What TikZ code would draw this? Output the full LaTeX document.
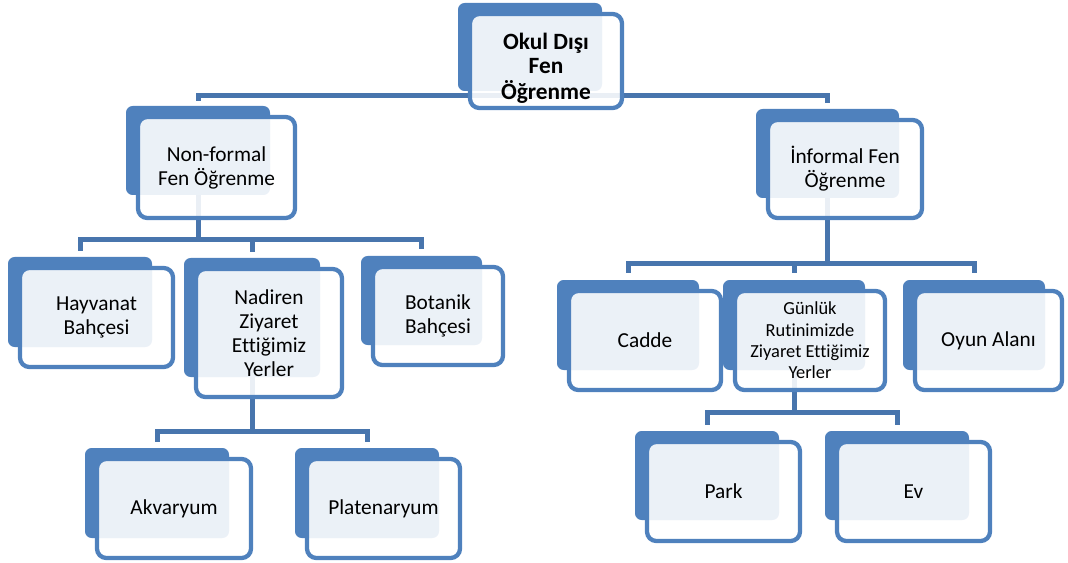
\documentclass[tikz,border=0pt]{standalone}
\usepackage{fontspec}
\setmainfont{Carlito}[Ligatures=NoCommon]
\usetikzlibrary{calc}
\definecolor{boxblue}{RGB}{79,129,189}
\definecolor{lineblue}{RGB}{72,117,173}
\pgfdeclarelayer{bg}
\pgfdeclarelayer{cn}
\pgfsetlayers{bg,cn,main}
\tikzset{
  backbox/.style={fill=boxblue, draw=none, rounded corners=5pt, inner sep=0pt},
  frontbox/.style={draw=boxblue, line width=3.2pt, fill=white, fill opacity=0.89, text opacity=1,
    rounded corners=7pt, inner sep=0pt, align=center, text=black,
    font=\fontsize{16}{18}\selectfont},
  smalltext/.style={font=\fontsize{13.8}{16}\selectfont},
  roottext/.style={font=\fontsize{17.5}{18.3}\selectfont\bfseries},
  conn/.style={draw=lineblue, line width=3.75pt}
}
\newcommand\mybox[9]{%
  \pgfmathsetmacro\myBW{(#4-#2)*0.75}%
  \pgfmathsetmacro\myBH{(#5-#3)*0.75}%
  \pgfmathsetmacro\myFW{(#6-#2-12)*0.75}%
  \pgfmathsetmacro\myFH{(#7-#3-11)*0.75}%
  \begin{pgfonlayer}{bg}
    \node[backbox, minimum width=\myBW pt, minimum height=\myBH pt] (#1B) at ({(#2+#4)/2},{(#3+#5)/2}) {};
  \end{pgfonlayer}
  \node[frontbox, minimum width=\myFW pt, minimum height=\myFH pt, #9] (#1) at ({(#2+12+#6)/2},{(#3+11+#7)/2}) {#8};%
}
\begin{document}
\begin{tikzpicture}[x=0.75pt, y=-0.75pt]
\useasboundingbox (0,0) rectangle (1068,563);
\mybox{root}{458}{3}{602}{91}{622}{108}{\raisebox{-10.8pt}[0pt][0pt]{\begin{tabular}{@{}c@{}}Okul Dışı\\Fen\\Öğrenme\end{tabular}}}{roottext}
\mybox{nf}{126}{106}{270}{195}{295}{218}{Non-formal\\Fen Öğrenme}{}
\mybox{inf}{756}{109}{899}{198}{922}{218}{İnformal Fen\\Öğrenme}{}
\mybox{hay}{8}{257}{152}{347}{173}{367}{Hayvanat\\Bahçesi}{}
\mybox{nad}{184}{258}{320}{377}{342}{397}{Nadiren\\Ziyaret\\Ettiğimiz\\Yerler}{}
\mybox{bot}{361}{256}{482}{345}{503}{365}{Botanik\\Bahçesi}{}
\mybox{cad}{557}{280}{699}{370}{721}{390}{Cadde}{}
\mybox{gun}{723}{280}{865}{370}{885}{390}{Günlük\\Rutinimizde\\Ziyaret Ettiğimiz\\Yerler}{smalltext}
\mybox{oyun}{903}{280}{1045}{370}{1062}{390}{Oyun Alanı}{}
\mybox{akv}{85}{448}{229}{538}{251}{558}{Akvaryum}{}
\mybox{plat}{295}{448}{439}{538}{460}{558}{Platenaryum}{}
\mybox{park}{635}{431}{779}{520}{800}{541}{Park}{}
\mybox{ev}{825}{431}{969}{520}{990}{541}{Ev}{}
\begin{pgfonlayer}{cn}
  % root
  \draw[conn] ($(nfB.north)+(0,-5)$) |- ($(rootB.south)+(0,4)$) -| ($(infB.north)+(0,-6)$);
  % non-formal
  \draw[conn] (nfB.south) -- ($(nfB.south |- hayB.north)+(0,-17)$) coordinate (b1);
  \draw[conn] ($(hayB.north)+(0,-6)$) |- (b1) -| ($(botB.north)+(0,-7)$);
  \draw[conn] (b1 -| nadB.north) -- ($(nadB.north)+(0,-6)$);
  % informal
  \draw[conn] (infB.south) -- ($(infB.south |- cadB.north)+(0,-16)$) coordinate (b2);
  \draw[conn] ($(cadB.north)+(0,-7)$) |- (b2) -| ($(oyunB.north)+(0,-7)$);
  \draw[conn] (b2 -| gunB.north) -- ($(gunB.north)+(0,-7)$);
  % nadiren
  \draw[conn] (nadB.south) -- ($(nadB.south |- akvB.north)+(0,-16)$) coordinate (b3);
  \draw[conn] ($(akvB.north)+(0,-6)$) |- (b3) -| ($(platB.north)+(0,-6)$);
  % gunluk
  \draw[conn] (gunB.south) -- ($(gunB.south |- parkB.north)+(0,-18)$) coordinate (b4);
  \draw[conn] ($(parkB.north)+(0,-6)$) |- (b4) -| ($(evB.north)+(0,-6)$);
\end{pgfonlayer}
\end{tikzpicture}
\end{document}
